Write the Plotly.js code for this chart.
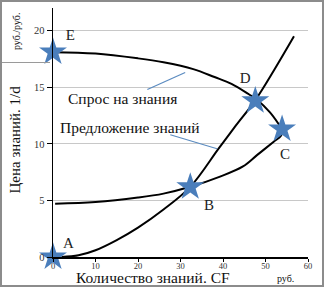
<!DOCTYPE html>
<html>
<head>
<meta charset="utf-8">
<script src="https://cdn.plot.ly/plotly-3.0.1.min.js"></script>
<style>
html,body{margin:0;padding:0;background:#fff;}
#frame{width:320px;height:283px;border:2px solid #8c8c8c;position:relative;}
#chart{width:320px;height:283px;}
#boxline{position:absolute;left:0;top:60px;width:48px;height:0;border-top:1px solid #9a9a9a;z-index:5;}
</style>
</head>
<body>
<div id="frame"><div id="chart"></div><div id="boxline"></div></div>
<script>
// Demand loop curve (E -> D -> C -> B -> left)
const demandX = [0, 10, 20, 26, 33, 38, 42, 46, 48, 51, 53, 54, 53.6, 52, 48, 44.7, 39.3, 32.3, 26, 20, 10, 0.5];
const demandY = [18.1, 17.98, 17.55, 17.2, 16.6, 15.9, 15.3, 14.4, 13.9, 12.8, 11.8, 11.2, 10.7, 10.2, 9.0, 8.0, 7.1, 6.2, 5.6, 5.25, 4.85, 4.7];
// Supply curve (A -> B -> D -> up)
const supplyX = [2, 6, 10, 15, 20, 26, 32.3, 39, 43, 47.5, 52, 56.7];
const supplyY = [0, 0.15, 0.6, 1.5, 2.6, 4.2, 6.2, 9.6, 11.6, 13.8, 16.5, 19.5];
// Marked points
const pointNames = ['A', 'B', 'C', 'D', 'E'];
const pointX = [0, 32.3, 53.9, 47.6, 0];
const pointY = [0, 6.2, 11.3, 13.8, 18.1];
const letterX = [3.6, 36.7, 54.6, 45.2, 4.1];
const letterY = [1.15, 4.5, 9.0, 15.7, 19.5];
// Curve labels and pointers
const curveLabels = ['Спрос на знания', 'Предложение знаний'];
const curveLabelX = [16.3, 18.2];
const curveLabelY = [14.0, 11.4];
const pointerX0 = [22.2, 27.6];
const pointerY0 = [14.8, 10.8];
const pointerX1 = [31.1, 38.6];
const pointerY1 = [16.3, 9.56];
// Axes
const xTicks = [0, 10, 20, 30, 40, 50, 60];
const yTicks = [0, 5, 10, 15, 20];
const xTitle = 'Количество знаний. CF';
const yTitle = 'Цена знаний. 1/d';
const xUnit = 'руб.';
const yUnit = 'руб./руб.';

const serif = '"Liberation Serif", "Times New Roman", Times, serif';

const traces = [
  {x: demandX, y: demandY, mode: 'lines', line: {color: '#000', width: 2, shape: 'spline', smoothing: 1}, cliponaxis: false, hoverinfo: 'skip'},
  {x: supplyX, y: supplyY, mode: 'lines', line: {color: '#000', width: 2, shape: 'spline', smoothing: 1}, cliponaxis: false, hoverinfo: 'skip'},
  {x: pointX, y: pointY, mode: 'markers', marker: {symbol: 'star', size: 21, color: '#4a7ebb', line: {width: 0}}, cliponaxis: false, hoverinfo: 'skip'},
  {x: letterX, y: letterY, mode: 'text', text: pointNames, textfont: {family: serif, size: 15, color: '#222'}, cliponaxis: false, hoverinfo: 'skip'}
];

const shapes = pointerX0.map((x0, i) => ({type: 'line', xref: 'x', yref: 'y', x0: x0, y0: pointerY0[i], x1: pointerX1[i], y1: pointerY1[i], line: {color: '#5b8bc0', width: 1.2}}));

const annotations = curveLabels.map((t, i) => ({x: curveLabelX[i], y: curveLabelY[i], xref: 'x', yref: 'y', text: t, showarrow: false, font: {family: serif, size: 15.5, color: '#111'}}));
annotations.push({x: 0, y: 0.5, xref: 'paper', yref: 'paper', xanchor: 'center', yanchor: 'middle', xshift: -39, yshift: -7, textangle: -90, text: yTitle, showarrow: false, font: {family: serif, size: 15, color: '#111'}});
annotations.push({x: 0, y: 1, xref: 'paper', yref: 'paper', xanchor: 'center', yanchor: 'middle', xshift: -37, yshift: -24, textangle: -90, text: yUnit, showarrow: false, font: {family: serif, size: 10, color: '#111'}});
annotations.push({x: 0.393, y: 0, xref: 'paper', yref: 'paper', xanchor: 'center', yanchor: 'middle', yshift: -20, text: xTitle, showarrow: false, font: {family: serif, size: 15.5, color: '#111'}});
annotations.push({x: 0.91, y: 0, xref: 'paper', yref: 'paper', xanchor: 'center', yanchor: 'middle', yshift: -21, text: xUnit, showarrow: false, font: {family: serif, size: 10, color: '#111'}});

const layout = {
  width: 320, height: 283,
  margin: {l: 50.5, r: 14, t: 6.4, b: 28},
  paper_bgcolor: '#fff', plot_bgcolor: '#fff',
  showlegend: false,
  font: {family: serif},
  xaxis: {range: [0, 60], tickvals: xTicks, ticks: 'outside', ticklen: 3, tickcolor: '#000', showline: true, linecolor: '#000', linewidth: 1.5, showgrid: false, zeroline: false, ticklabelstandoff: -3, tickfont: {family: serif, size: 8.5, color: '#333'}, fixedrange: true},
  yaxis: {range: [0, 22], tickvals: yTicks, ticks: 'outside', ticklen: 5, tickcolor: '#000', showline: true, linecolor: '#000', linewidth: 1.5, showgrid: true, gridcolor: '#c8c8c8', gridwidth: 1, zeroline: false, tickfont: {family: serif, size: 10.5, color: '#333'}, fixedrange: true},
  shapes: shapes,
  annotations: annotations
};

Plotly.newPlot('chart', traces, layout, {displayModeBar: false, staticPlot: true});
</script>
</body>
</html>
